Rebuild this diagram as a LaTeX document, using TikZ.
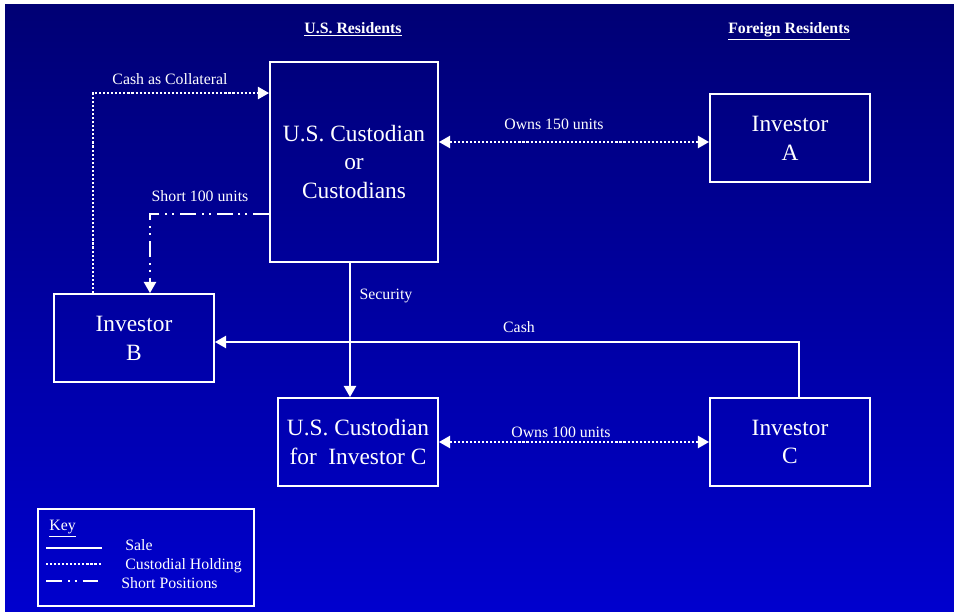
\documentclass[tikz,border=0pt]{standalone}
\usepackage{fontspec}
\setmainfont{Liberation Serif}
\usetikzlibrary{arrows.meta}
\definecolor{navytop}{RGB}{0,0,116}
\definecolor{bluebot}{RGB}{0,0,206}
\tikzset{
  box/.style={draw=white,line width=1.1pt,text=white,align=center,inner sep=0pt,
    font=\fontsize{13.3}{16.4}\selectfont,minimum width=3.2cm,minimum height=1.76cm},
  lbl/.style={text=white,inner sep=0pt,font=\fontsize{9}{11}\selectfont},
  sale/.style={draw=white,line width=1.1pt},
  dots/.style={sale,dash pattern=on 1.2pt off 1.1pt},
  dashdot/.style={sale,dash pattern=on 9pt off 3.4pt on 1.1pt off 2.8pt on 1.1pt off 3.4pt},
  tip/.style={-{Triangle[length=6.4pt,width=7pt]}},
  tips/.style={{Triangle[length=6.4pt,width=7pt]}-{Triangle[length=6.4pt,width=7pt]}}
}
\begin{document}
\begin{tikzpicture}[x=0.02cm,y=-0.02cm]
\useasboundingbox (0,0) rectangle (954,612);
\shade[top color=navytop,bottom color=bluebot] (5,4) rectangle (954,612);

\node[lbl,anchor=base,font=\bfseries\fontsize{9}{11}\selectfont] (hus) at (353,33) {\underline{U.S. Residents}};
\node[lbl,anchor=base,font=\bfseries\fontsize{9}{11}\selectfont] (hfor) at (789,33) {\underline{Foreign Residents}};

\node[box,minimum width=3.36cm,minimum height=4cm] (cust) at (354,162) {U.S. Custodian\\or\\Custodians};
\node[box] (invA) at (790,138) {Investor\\A};
\node[box] (invB) at (134,338) {Investor\\B};
\node[box] (custC) at (358,442) {U.S. Custodian\\for\ \ Investor C};
\node[box] (invC) at (790,442) {Investor\\C};

\draw[dots,tip] ([xshift=0.8cm]invB.north west) |- ([yshift=-0.64cm]cust.north west);
\node[lbl] (lcoll) at (170,79) {Cash as Collateral};
\draw[dashdot,tip] ([yshift=0.98cm]cust.south west) -| ([xshift=0.32cm]invB.north);
\node[lbl] (lshort) at (200,196) {Short 100 units};
\draw[dots,tips] ([yshift=-0.08cm]cust.east |- invA.west) -- ([yshift=-0.08cm]invA.west);
\node[lbl] (lown150) at (554,124) {Owns 150 units};
\draw[sale,tip] ([xshift=-0.08cm]cust.south) -- ([xshift=-0.08cm]cust.south |- custC.north);
\node[lbl] (lsec) at (386,296) {Security};
\draw[sale,tip] ([xshift=-1.44cm]invC.north east) |- ([yshift=-0.08cm]invB.east);
\node[lbl] (lcash) at (519,327) {Cash};
\draw[dots,tips] (custC.east) -- (invC.west);
\node[lbl] (lown100) at (561,432) {Owns 100 units};

\node[box,minimum width=4.32cm,minimum height=1.94cm] (key) at (146,557.5) {};
\node[lbl,anchor=base west] (keyt) at (49,530) {\underline{Key}};
\foreach \y/\ty/\s/\t/\x in {548/550/sale/Sale/125, 564/569/dots/Custodial Holding/125, 581/588/dashdot/Short Positions/121}
{
  \draw[\s] (46,\y) -- (102,\y);
  \node[lbl,anchor=base west] at (\x,\ty) {\t};
}
\end{tikzpicture}
\end{document}
